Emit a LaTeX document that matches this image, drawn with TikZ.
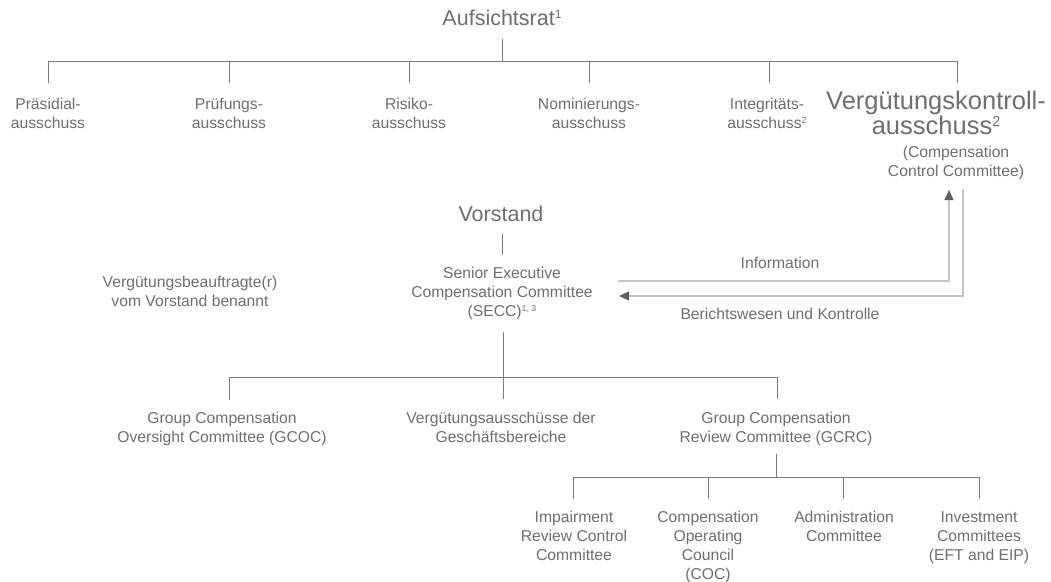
\documentclass[tikz,border=0pt]{standalone}
\usepackage{fontspec}
\usepackage{graphicx}
\setmainfont{Liberation Sans}
\usetikzlibrary{arrows.meta}
\definecolor{txt}{HTML}{6D6E71}
\definecolor{ln}{HTML}{7A7A7A}
\definecolor{aln}{HTML}{C4C4C4}
\definecolor{ahd}{HTML}{5F6063}
\newcommand\hochz[1]{\raisebox{0.32em}{\scalebox{0.56}{#1}}}
\begin{document}
\begin{tikzpicture}[x=1pt,y=-1pt,
  every node/.style={inner sep=0pt, text=txt, align=center},
  sm/.style={font=\fontsize{15.7}{19}\selectfont},
  md/.style={font=\fontsize{21.5}{24}\selectfont},
  lg/.style={font=\fontsize{25.5}{24.7}\selectfont},
  tree/.style={draw=ln, line width=0.9pt},
  flow/.style={draw=aln, line width=1.2pt},
  arrowtip/.style={-{Triangle[length=10pt,width=9pt,color=ahd]}}
]
\useasboundingbox (0,0) rectangle (1051,581);

% texts
\node[md] (auf) at (502,18) {Aufsichtsrat\hochz{1}};
\node[sm] (pra) at (48,113) {Präsidial-\\ausschuss};
\node[sm] (pru) at (229,113) {Prüfungs-\\ausschuss};
\node[sm] (ris) at (409,113) {Risiko-\\ausschuss};
\node[sm] (nom) at (589,113) {Nominierungs-\\ausschuss};
\node[sm] (int) at (767,113) {Integritäts-\\ausschuss\hochz{2}};
\node[lg] (vkc) at (936,113) {Vergütungskontroll-\\ausschuss\hochz{2}};
\node[sm] (ccc) at (956,163) {(Compensation\\Control Committee)};
\node[md] (vor) at (501,214) {Vorstand};
\node[sm] (secc) at (502,293.5) {Senior Executive\\Compensation Committee\\(SECC)\hochz{1, 3}};
\node[sm] (vb) at (190,291) {Vergütungsbeauftragte(r)\\vom Vorstand benannt};
\node[sm] (info) at (780,263) {Information};
\node[sm] (ber) at (780,314) {Berichtswesen und Kontrolle};
\node[sm] (gcoc) at (222,429) {Group Compensation\\Oversight Committee (GCOC)};
\node[sm] (gb) at (501,427) {Vergütungsausschüsse der\\Geschäftsbereiche};
\node[sm] (gcrc) at (776,429) {Group Compensation\\Review Committee (GCRC)};
\node[sm] (irc) at (574,535.7) {Impairment\\Review Control\\Committee};
\node[sm] (coc) at (708,547) {Compensation\\Operating\\Council\\(COC)};
\node[sm] (adm) at (844,526) {Administration\\Committee};
\node[sm] (inv) at (979,537.5) {Investment\\Committees\\(EFT and EIP)};

% level 1 tree
\coordinate (t1) at (502,39);
\coordinate (h1) at (502,61);
\foreach \c/\x in {d1/48,d2/229,d3/409,d4/589,d5/769,d6/957}{
  \coordinate (\c) at (\x,61); \coordinate (\c e) at (\x,83);}
\draw[tree] (t1) -- (h1);
\draw[tree] (d1) -- (d6);
\foreach \c in {d1,d2,d3,d4,d5,d6} \draw[tree] (\c) -- (\c e);

% Vorstand -> SECC
\coordinate (v0) at (502,234);
\coordinate (v1) at (502,255);
\draw[tree] (v0) -- (v1);

% level 3 tree
\coordinate (s0) at (503,332);
\coordinate (s1) at (503,399);
\coordinate (g1) at (229,377);
\coordinate (g1e) at (229,400);
\coordinate (g3) at (777,377);
\coordinate (g3e) at (777,399);
\draw[tree] (s0) -- (s1);
\draw[tree] (g1e) -- (g1) -- (g3) -- (g3e);

% level 4 tree
\coordinate (r0) at (776,454);
\coordinate (r1) at (776,477);
\draw[tree] (r0) -- (r1);
\foreach \c/\x in {k1/573,k2/708,k3/843,k4/979}{
  \coordinate (\c) at (\x,477); \coordinate (\c e) at (\x,499);}
\draw[tree] (k1) -- (k4);
\foreach \c in {k1,k2,k3,k4} \draw[tree] (\c) -- (\c e);

% information / reporting arrows
\coordinate (i0) at (618,281);
\coordinate (i1) at (949,281);
\coordinate (i2) at (949,190);
\draw[flow,arrowtip] (i0) -- (i1) -- (i2);
\coordinate (b0) at (963,189);
\coordinate (b1) at (963,296);
\coordinate (b2) at (619,296);
\draw[flow,arrowtip] (b0) -- (b1) -- (b2);
\end{tikzpicture}
\end{document}
